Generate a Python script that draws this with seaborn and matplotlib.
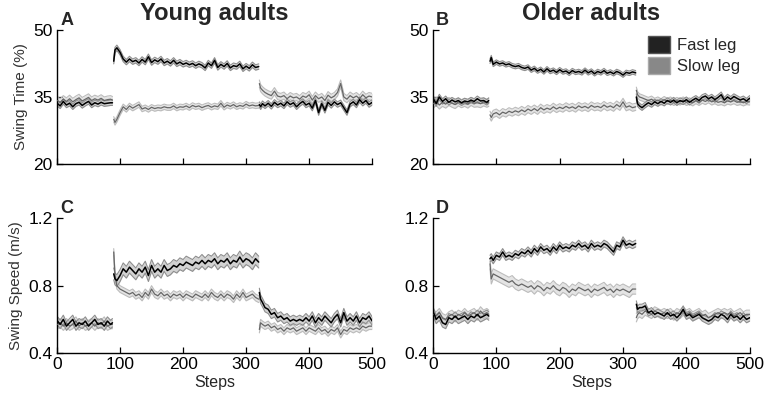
import pandas as pd
import matplotlib.pyplot as plt
import seaborn as sns
from matplotlib.patches import Patch

# step positions of the plotted samples, one list per walking phase
steps_base = [1, 5, 10, 15, 20, 25, 30, 35, 40, 45, 50, 55, 60, 65, 70, 75, 80, 85, 88]
steps_adapt = [90, 92, 95, 100, 105, 110, 115, 120, 125, 130, 135, 140, 145, 150, 155, 160,
               165, 170, 175, 180, 185, 190, 195, 200, 205, 210, 215, 220, 225, 230, 235, 240,
               245, 250, 255, 260, 265, 270, 275, 280, 285, 290, 295, 300, 305, 310, 315, 320]
steps_post = [321, 323, 326, 330, 335, 340, 345, 350, 355, 360, 365, 370, 375, 380, 385, 390,
              395, 400, 405, 410, 415, 420, 425, 430, 435, 440, 445, 450, 455, 460, 465, 470,
              475, 480, 485, 490, 495, 500]

# swing time (%), young adults
young_time_fast = ([33.5, 33.0, 34.0, 33.2, 33.6, 32.8, 33.5, 33.8, 33.1, 33.6, 34.0, 33.2, 33.7, 33.4, 33.8, 33.5, 33.6, 33.7, 33.7]
                   + [43.0, 45.5, 46.0, 45.0, 43.5, 42.8, 43.5, 42.9, 43.2, 42.6, 43.4, 42.8, 44.0, 42.7, 43.3, 42.9,
                      43.5, 42.6, 43.0, 42.5, 43.2, 42.4, 42.8, 42.3, 42.6, 42.2, 42.5, 42.0, 42.4, 42.1, 41.5, 42.6,
                      42.0, 43.2, 41.6, 42.3, 41.8, 42.5, 41.5, 42.0, 41.8, 42.4, 41.3, 41.9, 41.4, 42.2, 41.6, 41.8]
                   + [33.3, 32.8, 33.5, 33.0, 33.6, 32.9, 33.8, 33.2, 33.6, 33.0, 33.9, 33.3, 33.7, 32.8, 33.5, 34.0,
                      33.2, 33.6, 32.5, 34.2, 31.5, 33.5, 32.0, 33.8, 33.1, 33.9, 33.3, 33.7, 32.6, 31.5, 33.4, 33.9,
                      33.2, 34.4, 33.6, 34.2, 33.3, 33.8])
young_time_slow = ([34.2, 33.8, 34.5, 34.0, 34.6, 33.9, 34.4, 34.8, 34.1, 34.5, 34.9, 34.2, 34.6, 34.3, 34.7, 34.2, 34.4, 34.5, 34.3]
                   + [30.0, 29.3, 30.0, 31.5, 32.8, 32.2, 33.0, 32.5, 32.9, 33.3, 32.3, 32.6, 32.2, 32.7, 32.4, 32.6,
                      32.5, 32.8, 32.6, 32.6, 33.0, 32.5, 32.8, 32.7, 33.0, 32.6, 33.1, 32.8, 33.0, 32.6, 32.9, 33.1,
                      32.7, 33.0, 32.8, 33.6, 32.7, 33.2, 32.9, 33.3, 32.8, 33.1, 32.9, 33.4, 33.0, 33.2, 33.0, 33.1]
                   + [38.0, 37.0, 36.5, 36.0, 35.6, 35.3, 36.3, 35.2, 35.0, 35.3, 34.6, 35.2, 34.8, 35.0, 34.5, 35.2,
                      34.9, 35.5, 34.3, 35.3, 34.6, 35.0, 34.2, 35.4, 34.8, 35.2, 36.0, 38.0, 35.0, 34.5, 35.3, 34.8,
                      35.2, 34.6, 35.5, 34.8, 35.2, 35.0])

# swing time (%), older adults
older_time_fast = ([34.5, 33.5, 35.0, 34.0, 34.6, 33.8, 34.3, 33.9, 34.2, 33.7, 34.1, 33.9, 34.3, 34.0, 34.6, 34.1, 34.2, 33.8, 34.2]
                   + [43.0, 43.8, 42.3, 42.8, 42.4, 42.6, 42.2, 42.4, 42.0, 41.8, 42.0, 41.6, 41.4, 41.7, 41.0, 41.4,
                      40.8, 41.2, 40.6, 41.3, 40.7, 41.0, 40.5, 41.1, 40.6, 40.8, 40.3, 40.9, 40.5, 40.7, 40.4, 41.0,
                      40.4, 40.8, 40.2, 40.7, 40.4, 40.9, 40.3, 40.6, 40.2, 40.7, 40.4, 39.9, 40.5, 40.3, 40.6, 40.4]
                   + [35.0, 33.5, 33.0, 32.6, 33.2, 33.7, 33.3, 33.9, 33.5, 34.0, 33.6, 34.2, 33.8, 34.3, 33.7, 34.2,
                      33.9, 34.4, 33.8, 34.3, 34.7, 34.2, 34.9, 35.2, 34.6, 35.0, 34.4, 34.9, 35.5, 34.3, 35.0, 34.5,
                      35.1, 34.7, 34.3, 34.6, 34.1, 34.7])
older_time_slow = ([33.5, 34.0, 33.2, 33.8, 33.4, 34.0, 33.6, 33.3, 33.9, 33.5, 33.8, 33.4, 34.0, 33.6, 33.7, 33.5, 33.9, 33.6, 33.8]
                   + [31.0, 30.4, 31.2, 31.5, 31.0, 31.6, 31.3, 31.8, 31.5, 31.9, 31.6, 32.1, 31.7, 32.3, 31.9, 32.4,
                      31.9, 32.6, 32.1, 32.5, 32.2, 32.8, 32.3, 32.7, 32.4, 32.9, 32.5, 32.8, 32.4, 33.0, 32.6, 32.9,
                      32.5, 33.1, 32.7, 32.9, 32.6, 33.2, 32.7, 33.0, 32.6, 33.3, 32.8, 33.9, 32.7, 33.0, 32.6, 32.8]
                   + [36.5, 35.5, 35.0, 34.8, 34.5, 34.2, 34.5, 34.0, 34.3, 33.9, 34.4, 34.0, 34.3, 33.8, 34.2, 33.9,
                      34.3, 33.8, 34.1, 33.7, 34.2, 33.8, 34.3, 34.0, 34.4, 33.9, 34.2, 33.8, 34.0, 33.7, 34.1, 33.9,
                      34.2, 33.8, 34.0, 33.7, 34.0, 33.9])

# swing speed (m/s), young adults
young_speed_fast = ([0.59, 0.57, 0.60, 0.56, 0.58, 0.60, 0.56, 0.58, 0.57, 0.59, 0.56, 0.58, 0.60, 0.57, 0.58, 0.56, 0.59, 0.57, 0.58]
                    + [0.87, 0.84, 0.83, 0.86, 0.90, 0.88, 0.91, 0.89, 0.87, 0.90, 0.88, 0.91, 0.86, 0.92, 0.88, 0.90,
                       0.88, 0.92, 0.89, 0.90, 0.92, 0.91, 0.93, 0.92, 0.94, 0.93, 0.92, 0.94, 0.93, 0.95, 0.93, 0.95,
                       0.94, 0.96, 0.93, 0.95, 0.94, 0.96, 0.93, 0.95, 0.94, 0.97, 0.94, 0.96, 0.95, 0.93, 0.96, 0.94]
                    + [0.76, 0.72, 0.70, 0.67, 0.66, 0.63, 0.64, 0.61, 0.62, 0.60, 0.61, 0.59, 0.60, 0.59, 0.60, 0.59,
                       0.61, 0.59, 0.62, 0.58, 0.61, 0.59, 0.62, 0.60, 0.58, 0.61, 0.63, 0.58, 0.64, 0.59, 0.61, 0.59,
                       0.62, 0.58, 0.61, 0.60, 0.62, 0.59])
young_speed_slow = ([0.57, 0.58, 0.56, 0.58, 0.56, 0.57, 0.59, 0.56, 0.58, 0.56, 0.57, 0.58, 0.56, 0.58, 0.57, 0.59, 0.56, 0.57, 0.57]
                    + [1.00, 0.86, 0.80, 0.78, 0.77, 0.76, 0.75, 0.76, 0.74, 0.75, 0.73, 0.76, 0.74, 0.78, 0.75, 0.74,
                       0.76, 0.74, 0.75, 0.73, 0.75, 0.74, 0.75, 0.73, 0.75, 0.74, 0.73, 0.75, 0.74, 0.73, 0.75, 0.73,
                       0.76, 0.74, 0.73, 0.75, 0.73, 0.75, 0.74, 0.72, 0.75, 0.73, 0.76, 0.73, 0.74, 0.75, 0.73, 0.72]
                    + [0.54, 0.58, 0.57, 0.56, 0.57, 0.55, 0.56, 0.54, 0.55, 0.53, 0.55, 0.54, 0.55, 0.53, 0.54, 0.55,
                       0.53, 0.55, 0.54, 0.53, 0.55, 0.53, 0.54, 0.52, 0.54, 0.53, 0.55, 0.51, 0.54, 0.53, 0.55, 0.54,
                       0.55, 0.54, 0.56, 0.55, 0.56, 0.56])

# swing speed (m/s), older adults
older_speed_fast = ([0.64, 0.60, 0.62, 0.58, 0.57, 0.61, 0.60, 0.62, 0.60, 0.61, 0.62, 0.60, 0.62, 0.61, 0.63, 0.61, 0.62, 0.63, 0.62]
                    + [0.96, 0.97, 0.95, 0.98, 0.97, 1.00, 0.97, 0.98, 0.97, 0.99, 0.98, 1.00, 0.99, 1.01, 0.99, 1.02,
                       1.00, 1.03, 1.01, 1.02, 1.00, 1.03, 1.01, 1.04, 1.02, 1.03, 1.02, 1.04, 1.03, 1.05, 1.03, 1.04,
                       1.02, 1.05, 1.03, 1.04, 1.03, 1.05, 1.04, 1.02, 1.00, 1.04, 1.03, 1.07, 1.04, 1.05, 1.04, 1.05]
                    + [0.69, 0.66, 0.67, 0.67, 0.68, 0.64, 0.65, 0.63, 0.64, 0.63, 0.62, 0.64, 0.62, 0.63, 0.61, 0.63,
                       0.66, 0.62, 0.63, 0.61, 0.62, 0.63, 0.61, 0.60, 0.59, 0.60, 0.62, 0.61, 0.63, 0.62, 0.60, 0.63,
                       0.61, 0.62, 0.60, 0.62, 0.60, 0.61])
older_speed_slow = ([0.63, 0.62, 0.64, 0.61, 0.60, 0.62, 0.63, 0.61, 0.63, 0.62, 0.64, 0.62, 0.63, 0.64, 0.62, 0.65, 0.63, 0.64, 0.63]
                    + [0.93, 0.84, 0.87, 0.86, 0.85, 0.84, 0.83, 0.82, 0.83, 0.81, 0.80, 0.81, 0.80, 0.79, 0.80, 0.78,
                       0.80, 0.79, 0.77, 0.79, 0.78, 0.80, 0.78, 0.77, 0.79, 0.78, 0.76, 0.78, 0.77, 0.79, 0.78, 0.77,
                       0.78, 0.76, 0.78, 0.77, 0.78, 0.79, 0.77, 0.78, 0.76, 0.78, 0.77, 0.78, 0.77, 0.76, 0.78, 0.78]
                    + [0.61, 0.63, 0.64, 0.63, 0.65, 0.64, 0.63, 0.65, 0.64, 0.63, 0.64, 0.63, 0.64, 0.62, 0.64, 0.63,
                       0.65, 0.63, 0.64, 0.62, 0.63, 0.64, 0.62, 0.63, 0.61, 0.62, 0.63, 0.64, 0.63, 0.64, 0.63, 0.64,
                       0.62, 0.63, 0.64, 0.62, 0.63, 0.63])

# standard error (half band width) per phase: baseline, adaptation, post
young_time_sem = {"Fast leg": [0.6, 0.6, 0.6], "Slow leg": [0.8, 0.6, 0.8]}
older_time_sem = {"Fast leg": [0.6, 0.5, 0.6], "Slow leg": [0.9, 0.8, 0.7]}
young_speed_sem = {"Fast leg": [0.025, 0.035, 0.025], "Slow leg": [0.025, 0.02, 0.02]}
older_speed_sem = {"Fast leg": [0.025, 0.02, 0.02], "Slow leg": [0.025, 0.03, 0.025]}

phases = ["base", "adapt", "post"]
phase_steps = [steps_base, steps_adapt, steps_post]


def build(fast, slow, sem):
    rows = []
    for leg, vals in [("Slow leg", slow), ("Fast leg", fast)]:
        i = 0
        for p, (ph, st) in enumerate(zip(phases, phase_steps)):
            for s in st:
                rows.append({"step": s, "value": vals[i], "leg": leg, "phase": ph,
                             "err": sem[leg][p]})
                i += 1
        assert i == len(vals)
    return pd.DataFrame(rows)


sns.set_style("ticks")
plt.rcParams["font.family"] = ["Liberation Sans", "DejaVu Sans"]

fig = plt.figure(figsize=(7.65, 3.99), dpi=100)
pos = {
    "A": [0.0745, 0.589, 0.412, 0.336],
    "B": [0.566, 0.589, 0.414, 0.336],
    "C": [0.0745, 0.115, 0.412, 0.338],
    "D": [0.566, 0.115, 0.414, 0.338],
}
panels = [
    ("A", build(young_time_fast, young_time_slow, young_time_sem), (20, 50), [20, 35, 50], "Young adults"),
    ("B", build(older_time_fast, older_time_slow, older_time_sem), (20, 50), [20, 35, 50], "Older adults"),
    ("C", build(young_speed_fast, young_speed_slow, young_speed_sem), (0.4, 1.2), [0.4, 0.8, 1.2], None),
    ("D", build(older_speed_fast, older_speed_slow, older_speed_sem), (0.4, 1.2), [0.4, 0.8, 1.2], None),
]

band_fill = {"Fast leg": "#d2d2d2", "Slow leg": "#e4e4e4"}
band_edge = {"Fast leg": "#8e8e8e", "Slow leg": "#bcbcbc"}
line_col = {"Fast leg": "black", "Slow leg": "#666666"}

for letter, df, ylim, yticks, title in panels:
    ax = fig.add_axes(pos[letter])
    for leg in ["Slow leg", "Fast leg"]:
        for ph in phases:
            d = df[(df["leg"] == leg) & (df["phase"] == ph)]
            lo = d["value"] - d["err"]
            hi = d["value"] + d["err"]
            ax.fill_between(d["step"], lo, hi, color=band_fill[leg], lw=0, zorder=1)
            ax.plot(d["step"], lo, color=band_edge[leg], lw=0.8, zorder=2)
            ax.plot(d["step"], hi, color=band_edge[leg], lw=0.8, zorder=2)
    for leg in ["Slow leg", "Fast leg"]:
        sns.lineplot(data=df[df["leg"] == leg], x="step", y="value", units="phase", estimator=None,
                     color=line_col[leg], lw=1.1 if leg == "Fast leg" else 0.9, ax=ax, zorder=3)

    ax.set_xlim(0, 500)
    ax.set_ylim(*ylim)
    ax.set_yticks(yticks)
    ax.set_yticklabels([f"{t:g}" if ylim[0] > 1 else f"{t:.1f}" for t in yticks])
    ax.set_xticks([0, 100, 200, 300, 400, 500])
    ax.tick_params(direction="in", length=4, width=0.9, colors="black", labelsize=12.5, pad=3)
    sns.despine(ax=ax)
    for sp in ["left", "bottom"]:
        ax.spines[sp].set_linewidth(1.0)
        ax.spines[sp].set_color("black")
    ax.set_ylabel("")
    ax.set_xlabel("")
    if letter in ("A", "B"):
        ax.set_xticklabels([])
    else:
        ax.set_xlabel("Steps", fontsize=11.5, labelpad=2)
    if letter == "A":
        ax.set_ylabel("Swing Time (%)", fontsize=11, color="#333333")
    if letter == "C":
        ax.set_ylabel("Swing Speed (m/s)", fontsize=11, color="#333333")
    if title:
        ax.set_title(title, fontsize=17, fontweight="bold", pad=7)
    ax.text(0.01, 1.01, letter, transform=ax.transAxes, fontsize=13, fontweight="bold",
            va="bottom", ha="left")
    if letter == "B":
        handles = [Patch(facecolor="#222222", edgecolor="#555555", label="Fast leg"),
                   Patch(facecolor="#888888", edgecolor="#aaaaaa", label="Slow leg")]
        ax.legend(handles=handles, loc="upper right", bbox_to_anchor=(1.0, 1.03), frameon=False,
                  fontsize=12, handlelength=1.3, handleheight=1.2, handletextpad=0.4,
                  labelspacing=0.25, borderaxespad=0.2)
    else:
        leg_obj = ax.get_legend()
        if leg_obj:
            leg_obj.remove()

fig.savefig("out.png", dpi=100)
